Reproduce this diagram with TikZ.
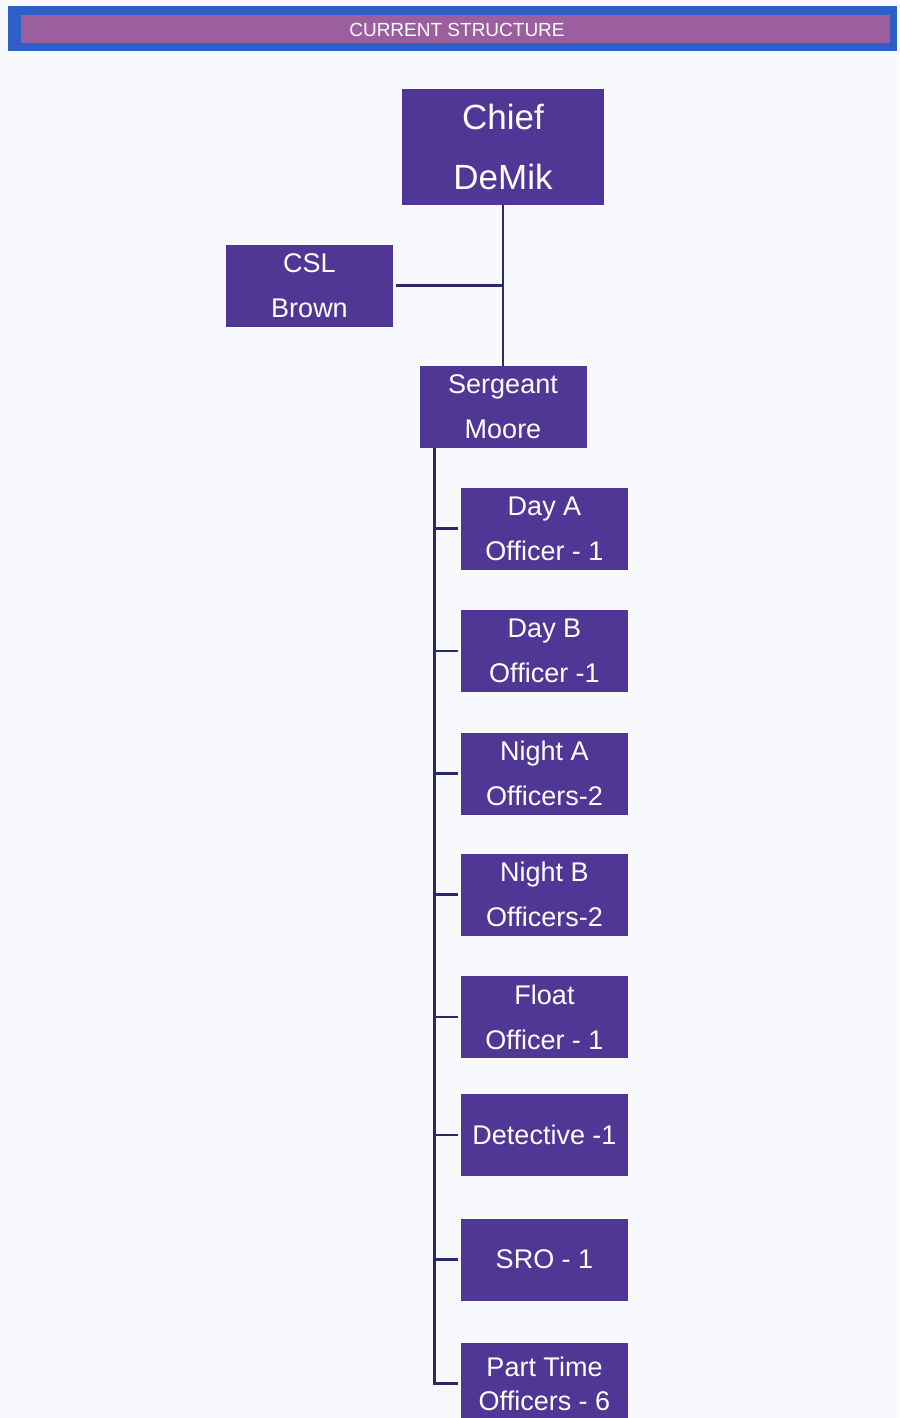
\documentclass[tikz,border=0pt]{standalone}
\usepackage{fontspec}
\setmainfont{Liberation Sans}
\definecolor{boxpurple}{RGB}{80,55,150}
\definecolor{linenavy}{RGB}{45,40,105}
\definecolor{bandblue}{RGB}{45,95,200}
\definecolor{bandmauve}{RGB}{155,95,160}
\definecolor{paper}{RGB}{247,249,252}
\tikzset{
    orgbox/.style={fill=boxpurple, text=white, minimum width=167pt, minimum height=82pt,
        inner sep=0pt, align=center, font=\fontsize{27}{45}\selectfont},
    orgline/.style={draw=linenavy, line width=2.5pt},
}
\begin{document}
\begin{tikzpicture}[x=1pt,y=-1pt]
    \fill[paper] (0,0) rectangle (899,1418);
    \useasboundingbox (0,0) rectangle (899,1418);
    %\node[] at (0,0) {};
    \fill[bandblue] (8,6) rectangle (897,51);
    \fill[bandmauve] (21,15) rectangle (890,43);
    \node[text=white, font=\fontsize{19}{19}\selectfont] (title) at (457,30) {CURRENT STRUCTURE};

    \node[orgbox, minimum width=202pt, minimum height=116pt, font=\fontsize{35}{60}\selectfont] (chief) at (503,147) {Chief\\DeMik};
    \node[orgbox] (csl) at (309.5,285.5) {CSL\\Brown};
    \node[orgbox] (sgt) at (503,407) {Sergeant\\Moore};

    \node[orgbox] (daya) at (544.5,528.5) {Day A\\Officer - 1};
    \node[orgbox] (dayb) at (544.5,651) {Day B\\Officer -1};
    \node[orgbox] (nighta) at (544.5,773.5) {Night A\\Officers-2};
    \node[orgbox] (nightb) at (544.5,894.5) {Night B\\Officers-2};
    \node[orgbox] (float) at (544.5,1017) {Float\\Officer - 1};
    \node[orgbox] (det) at (544.5,1135) {Detective -1};
    \node[orgbox] (sro) at (544.5,1259.5) {SRO - 1};
    \node[orgbox, font=\fontsize{27}{34}\selectfont] (parttime) at (544.5,1383.5) {Part Time\\Officers - 6};

    \draw[orgline] (chief.south) -- (sgt.north);
    \draw[orgline, shorten <=3pt] (csl.east) -- (csl.east -| chief.south);
    \coordinate (spine) at ([xshift=15pt]sgt.south west);
    \foreach \n in {daya,dayb,nighta,nightb,float,det,sro,parttime}
        \draw[orgline, shorten >=3pt] (spine) |- (\n.west);

\end{tikzpicture}
\end{document}
